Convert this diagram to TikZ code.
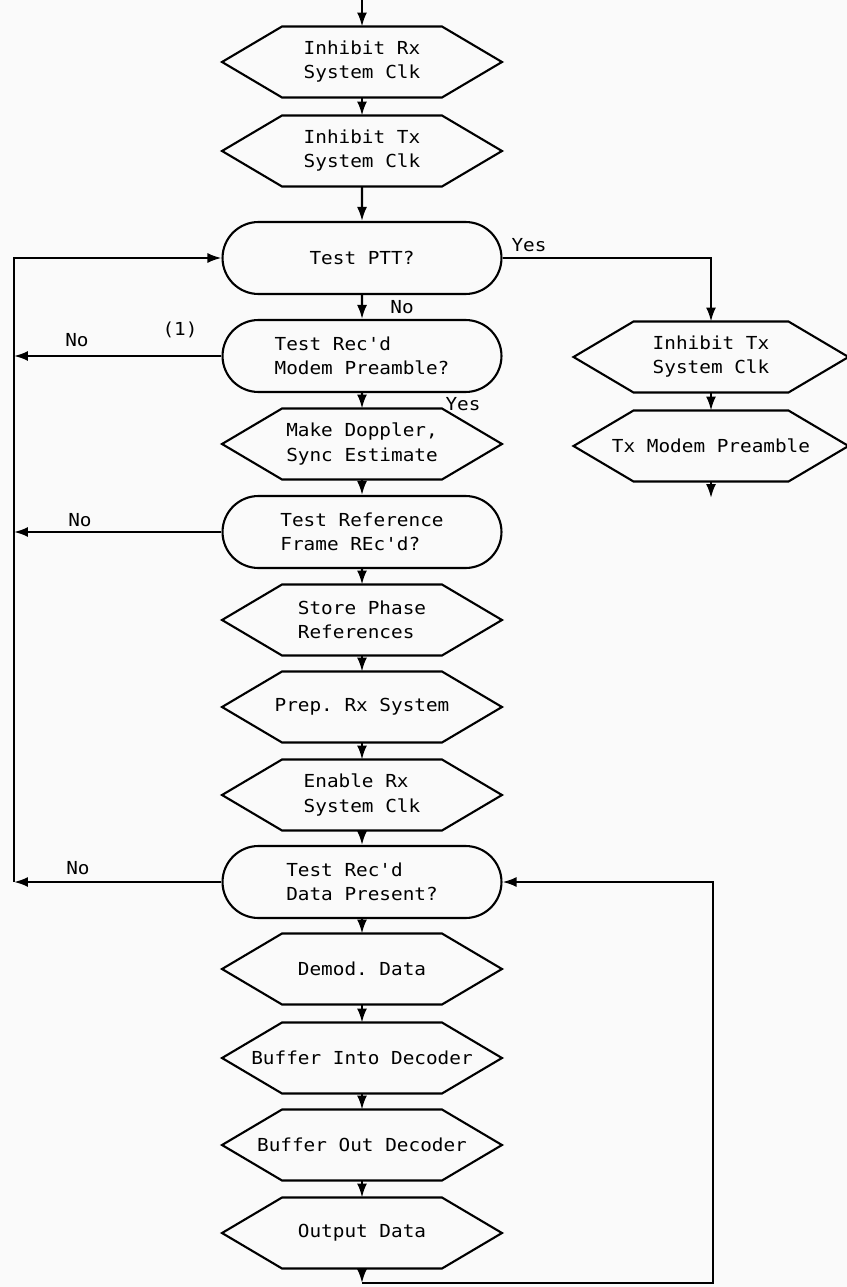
\documentclass[tikz,border=0pt]{standalone}
\usepackage{fontspec}
\setmonofont[FakeStretch=1.08]{DejaVu Sans Mono}
\usetikzlibrary{shapes.misc,arrows.meta}

\begin{document}
\begin{tikzpicture}[x=0.02cm, y=-0.02cm, >={Latex[length=2.8mm,width=2mm]}, line width=1.2pt,
  every node/.style={font=\ttfamily\fontsize{10.2}{13.7}\selectfont},
  hexa/.style={minimum width=5.6cm, minimum height=1.42cm, inner sep=0pt, outer sep=0pt, align=left},
  hexr/.style={hexa, minimum width=5.5cm},
  term/.style={draw, rounded rectangle, minimum width=5.58cm, minimum height=1.44cm, inner sep=0pt, align=left},
  lbl/.style={inner sep=1pt}]

  \useasboundingbox (0,0) rectangle (847,1287);
  \fill[black!2] (0,0) rectangle (847,1287);

  % Main column
  \node[hexa] (irx)  at (362,62)   {Inhibit Rx\\System Clk};
  \node[hexa] (itx)  at (362,151)  {Inhibit Tx\\System Clk};
  \node[term] (ptt)  at (362,258)  {Test PTT?};
  \node[term] (pre)  at (362,356)  {Test Rec'd\\Modem Preamble?};
  \node[hexa] (dop)  at (362,444)  {Make Doppler,\\Sync Estimate};
  \node[term] (ref)  at (362,532)  {Test Reference\\Frame REc'd?};
  \node[hexa] (sto)  at (362,620)  {Store Phase\\References};
  \node[hexa] (prep) at (362,707)  {Prep. Rx System};
  \node[hexa] (ena)  at (362,795)  {Enable Rx\\System Clk};
  \node[term] (dat)  at (362,882)  {Test Rec'd\\Data Present?};
  \node[hexa] (dem)  at (362,969)  {Demod. Data};
  \node[hexa] (bin)  at (362,1058) {Buffer Into Decoder};
  \node[hexa] (bout) at (362,1145) {Buffer Out Decoder};
  \node[hexa] (outd) at (362,1233) {Output Data};

  % Transmit branch
  \node[hexr] (itxr) at (711,357) {Inhibit Tx\\System Clk};
  \node[hexr] (txp)  at (711,446) {Tx Modem Preamble};

  % Hexagon outlines
  \foreach \n in {irx,itx,dop,sto,prep,ena,dem,bin,bout,outd,itxr,txp}
    \draw (\n.west) -- ([xshift=1.2cm]\n.north west) -- ([xshift=-1.2cm]\n.north east)
      -- (\n.east) -- ([xshift=-1.2cm]\n.south east) -- ([xshift=1.2cm]\n.south west) -- cycle;

  % Free ends
  \coordinate (top) at (362,0);
  \coordinate (bot) at (362,1283);
  \coordinate (botr) at (713,1283);
  \coordinate (lt) at (14,258);
  \coordinate (lb) at (14,882);
  \coordinate (txend) at (711,498);

  % Flow
  \draw[->] (top) -- (irx.north);
  \draw[->] (irx) -- (itx);
  \draw[->] (itx) -- (ptt);
  \draw[->] (ptt) -- (pre);
  \draw[->] (pre) -- (dop);
  \draw[->] (dop) -- (ref);
  \draw[->] (ref) -- (sto);
  \draw[->] (sto) -- (prep);
  \draw[->] (prep) -- (ena);
  \draw[->] (ena) -- (dat);
  \draw[->] (dat) -- (dem);
  \draw[->] (dem) -- (bin);
  \draw[->] (bin) -- (bout);
  \draw[->] (bout) -- (outd);
  \draw[->] (outd.south) -- (bot);
  \draw[->] (bot) -- (botr) |- (dat.east);

  % Yes branch
  \draw[->] (ptt.east) -| (itxr.north);
  \draw[->] (itxr) -- (txp);
  \draw[->] (txp.south) -- (txend);

  % No returns
  \draw[->] (lb) -- (lt) -- (ptt.west);
  \draw[->] (pre.west) -- (lt |- pre.west);
  \draw[->] (ref.west) -- (lt |- ref.west);
  \draw[->] (dat.west) -- (lb);

  % Labels
  \node[lbl] (yes1) at (529,245) {Yes};
  \node[lbl] (no1)  at (402,307) {No};
  \node[lbl] (num1) at (180,330) {(1)};
  \node[lbl] (no2)  at (77,340)  {No};
  \node[lbl] (yes2) at (463,404) {Yes};
  \node[lbl] (no3)  at (80,520)  {No};
  \node[lbl] (no4)  at (78,868)  {No};
\end{tikzpicture}
\end{document}
